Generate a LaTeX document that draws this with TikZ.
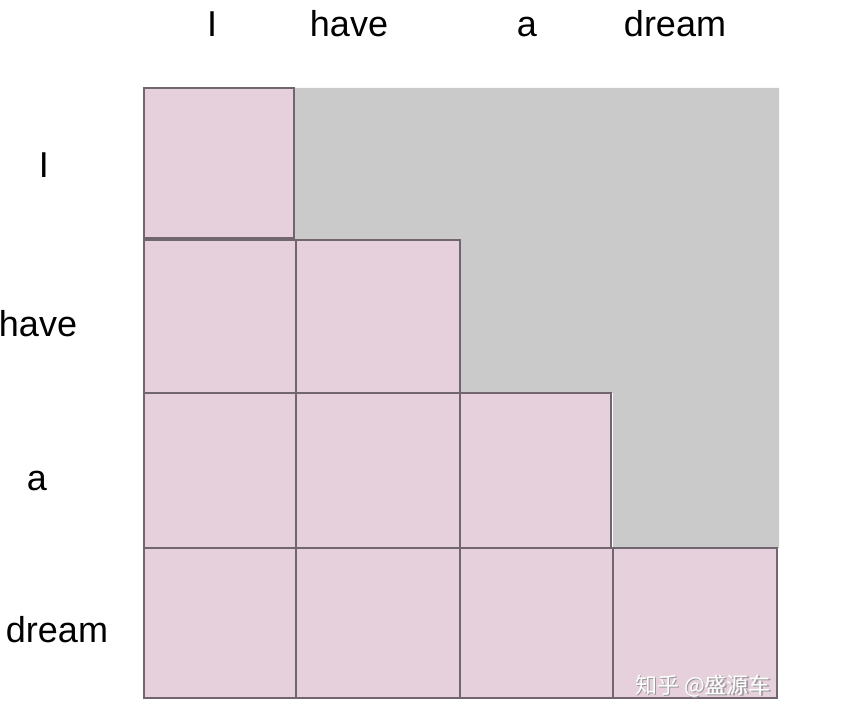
\documentclass[tikz,border=0pt]{standalone}
\usepackage{fontspec}
\setmainfont{Liberation Sans}
\newfontfamily\cjkfont{Noto Sans CJK SC}
\definecolor{cellpink}{HTML}{E5D0DB}
\definecolor{maskgray}{HTML}{CACACB}
\definecolor{gridline}{HTML}{716670}
\begin{document}
\begin{tikzpicture}[x=1pt,y=-1pt,
  cell/.style={fill=cellpink,draw=gridline,line width=1.6pt},
  lbl/.style={inner sep=0pt,anchor=base,font=\fontsize{36}{40}\selectfont,text=black}]
\useasboundingbox (0,0) rectangle (864,708);
\fill[white] (0,0) rectangle (864,708);
% masked (future) region
\fill[maskgray] (294,88) -- (779,88) -- (779,548) -- (613,548) -- (613,393) -- (460,393) -- (460,240) -- (294,240) -- cycle;
% lower-triangular cells
\draw[cell] (144,88) rectangle (294,238);
\draw[cell] (144,240) rectangle (296,393);
\draw[cell] (296,240) rectangle (460,393);
\draw[cell] (144,393) rectangle (296,548);
\draw[cell] (296,393) rectangle (460,548);
\draw[cell] (460,393) rectangle (611,548);
\draw[cell] (144,548) rectangle (296,698);
\draw[cell] (296,548) rectangle (460,698);
\draw[cell] (460,548) rectangle (613,698);
\draw[cell] (613,548) rectangle (777,698);
% column labels
\node[lbl] (tI) at (212,37) {I};
\node[lbl] (thave) at (349,37) {have};
\node[lbl] (ta) at (527,37) {a};
\node[lbl] (tdream) at (675,37) {dream};
% row labels
\node[lbl] (lI) at (44,178) {I};
\node[lbl] (lhave) at (38,337) {have};
\node[lbl] (la) at (37,490) {a};
\node[lbl] (ldream) at (57,642) {dream};
% watermark
\node[inner sep=0pt,font=\cjkfont\fontsize{22}{24}\selectfont,text=gray!80] (wm0) at (704.5,687.5) {知乎 @盛源车};
\node[inner sep=0pt,font=\cjkfont\fontsize{22}{24}\selectfont,text=white] (wm) at (703,686) {知乎 @盛源车};
\end{tikzpicture}
\end{document}
